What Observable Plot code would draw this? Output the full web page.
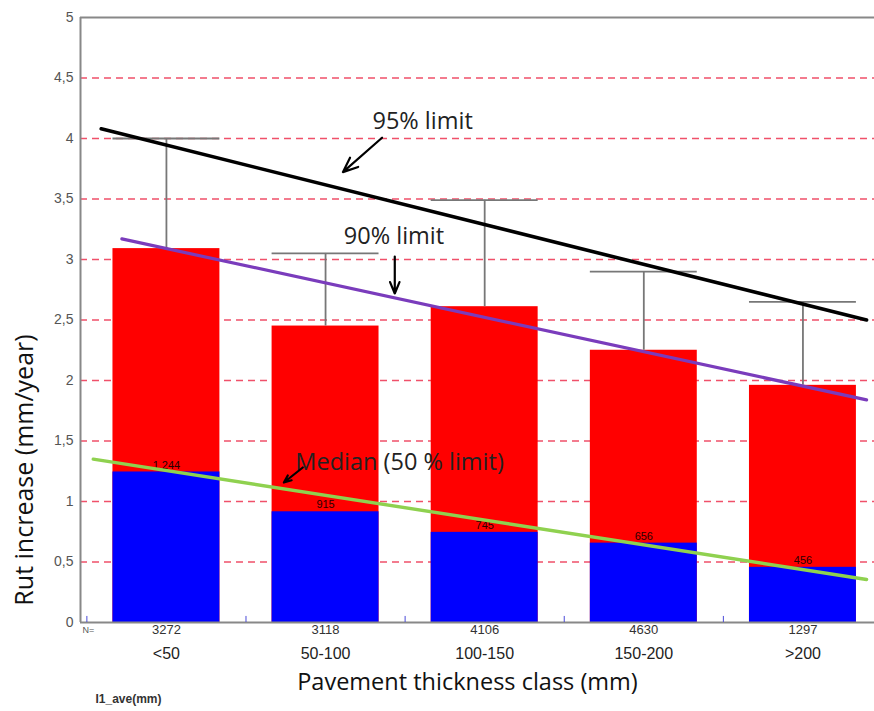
<!DOCTYPE html>
<html>
<head>
<meta charset="utf-8">
<script src="https://cdn.jsdelivr.net/npm/d3@7"></script>
<script src="https://cdn.jsdelivr.net/npm/@observablehq/plot@0.6"></script>
<style>
  html, body { margin: 0; padding: 0; background: #fff; }
  #chart svg { display: block; }
</style>
</head>
<body>
<div id="chart"></div>
<script>
// ---- data ----
const classes = ["<50", "50-100", "100-150", "150-200", ">200"];
const counts = [3272, 3118, 4106, 4630, 1297];
const upperBar = [3.09, 2.45, 2.61, 2.25, 1.96];        // red bar top (90 %)
const medians = [1.244, 0.915, 0.745, 0.656, 0.456];    // blue bar top (median)
const medianLabels = ["1.244", "915", "745", "656", "456"];
const whiskerTop = [4.0, 3.05, 3.49, 2.90, 2.65];       // 95 % whisker caps
const yTicks = [0, 0.5, 1, 1.5, 2, 2.5, 3, 3.5, 4, 4.5, 5];
const gridValues = [0.5, 1, 1.5, 2, 2.5, 3, 3.5, 4, 4.5];
const classBounds = [-0.5, 0.5, 1.5, 2.5, 3.5];

// trend lines (x in class-index units, y in mm/year)
const line95X = [-0.41, 4.40], line95Y = [4.08, 2.50];
const line90X = [-0.28, 4.40], line90Y = [3.17, 1.84];
const line50X = [-0.46, 4.40], line50Y = [1.35, 0.355];

// annotations
const annLabels = ["95% limit", "90% limit", "Median (50 % limit)"];
const annX = [1.61, 1.43, 0.81];
const annY = [4.14, 3.19, 1.32];
const arrowX1 = [1.355, 1.435, 0.857], arrowY1 = [4.006, 3.025, 1.281];
const arrowX2 = [1.109, 1.435, 0.738], arrowY2 = [3.722, 2.719, 1.157];

const xDomain = [-0.54, 4.5];
const halfW = 0.336;

const rows = classes.map((c, i) => ({
  i, c, n: counts[i], top: upperBar[i], med: medians[i],
  lab: medianLabels[i], wt: whiskerTop[i]
}));
const pts = (xs, ys) => xs.map((x, k) => ({x, y: ys[k]}));
const anns = annLabels.map((t, k) => ({t, x: annX[k], y: annY[k],
  x1: arrowX1[k], y1: arrowY1[k], x2: arrowX2[k], y2: arrowY2[k]}));

const sans = "'Open Sans', 'DejaVu Sans', sans-serif";
const narrow = "'Liberation Sans Narrow', 'Liberation Sans', Arial, sans-serif";

const chart = Plot.plot({
  width: 874,
  height: 711,
  marginLeft: 80,
  marginRight: -8,
  marginTop: 17,
  marginBottom: 89,
  x: {domain: xDomain, axis: null},
  y: {domain: [0, 5], axis: null},
  style: {fontFamily: sans, background: "#fff", overflow: "visible"},
  marks: [
    // dashed red grid
    Plot.ruleY(gridValues, {stroke: "#f0506a", strokeWidth: 1.4, strokeDasharray: "7,5"}),
    // bars
    Plot.rectY(rows, {x1: d => d.i - halfW, x2: d => d.i + halfW, y1: 0, y2: "top", fill: "#ff0000"}),
    Plot.rectY(rows, {x1: d => d.i - halfW, x2: d => d.i + halfW, y1: 0, y2: "med", fill: "#0000ff"}),
    Plot.text(rows, {x: "i", y: "med", text: "lab", dy: -7, fontSize: 11, fill: "#2a0000",
      fontFamily: narrow}),
    // whiskers
    Plot.ruleX(rows, {x: "i", y1: "top", y2: "wt", stroke: "#777", strokeWidth: 1.8}),
    Plot.ruleY(rows, {y: "wt", x1: d => d.i - halfW, x2: d => d.i + halfW, stroke: "#777", strokeWidth: 1.8}),
    // frame lines
    Plot.ruleX([xDomain[0]], {stroke: "#888", strokeWidth: 2}),
    Plot.ruleY([0, 5], {stroke: "#888", strokeWidth: 2}),
    // blue small ticks at class boundaries
    Plot.ruleX(classBounds, {x: d => d, y1: 0, y2: 0.05, stroke: "#4a4ad8", strokeWidth: 1}),
    // y tick labels
    Plot.text(yTicks, {y: d => d, frameAnchor: "left", text: d => String(d).replace(".", ","),
      textAnchor: "end", dx: -7, fontSize: 14, fill: "#555", fontFamily: narrow}),
    // trend lines
    Plot.line(pts(line95X, line95Y), {x: "x", y: "y", stroke: "#000", strokeWidth: 3.6}),
    Plot.line(pts(line90X, line90Y), {x: "x", y: "y", stroke: "#7a3cbc", strokeWidth: 3.2}),
    Plot.line(pts(line50X, line50Y), {x: "x", y: "y", stroke: "#8fd14f", strokeWidth: 3.4}),
    // annotations
    Plot.text(anns.slice(0, 2), {x: "x", y: "y", text: "t", textAnchor: "middle", fontSize: 23.5, fill: "#222"}),
    Plot.text(anns.slice(2), {x: "x", y: "y", text: "t", textAnchor: "start", fontSize: 23.5, fill: "#222"}),
    Plot.arrow(anns, {x1: "x1", y1: "y1", x2: "x2", y2: "y2", stroke: "#000", strokeWidth: 2.2,
      headLength: 11, headAngle: 45}),
    // bottom texts
    Plot.text(["N="], {frameAnchor: "bottom-left", text: d => d, dx: 2, dy: 10, textAnchor: "start",
      fontSize: 9, fill: "#555", fontFamily: narrow}),
    Plot.text(rows, {x: "i", frameAnchor: "bottom", text: d => String(d.n), dy: 11,
      fontSize: 13, fill: "#333", fontFamily: narrow}),
    Plot.text(rows, {x: "i", frameAnchor: "bottom", text: "c", dy: 36,
      fontSize: 16, fill: "#222", fontFamily: narrow}),
    Plot.text(["Pavement thickness class (mm)"], {frameAnchor: "bottom", text: d => d, dx: -14, dy: 67,
      fontSize: 23.5, fill: "#111"}),
    Plot.text(["I1_ave(mm)"], {frameAnchor: "bottom-left", text: d => d, dx: 15, dy: 80,
      textAnchor: "start", fontSize: 12, fontWeight: "bold", fill: "#333", fontFamily: narrow}),
    Plot.text(["Rut increase (mm/year)"], {frameAnchor: "left", text: d => d, rotate: -90,
      textAnchor: "middle", dx: -56, dy: 150, fontSize: 25, fill: "#111"})
  ]
});
document.getElementById("chart").appendChild(chart);
</script>
</body>
</html>
